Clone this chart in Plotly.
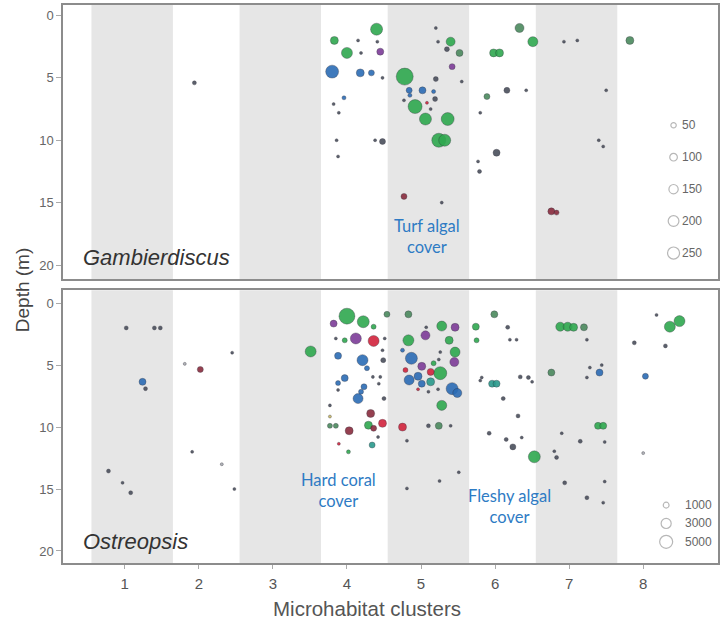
import numpy as np
import plotly.graph_objects as go

# ---------------- data ----------------
# Gambierdiscus: jittered cluster position, depth (m), cell abundance, colour group
gam_x = [1.94, 4.40, 3.83, 4.15, 4.41, 4.00, 4.19, 4.45, 3.80, 4.18,
         4.33, 4.48, 3.96, 3.82, 3.89, 3.86, 4.38, 4.48, 3.88, 4.78,
         5.20, 4.84, 5.02, 5.17, 4.77, 4.85, 5.19, 4.92, 5.08, 5.06,
         5.36, 5.13, 5.24, 5.32, 5.20, 5.23, 5.40, 5.35, 5.52, 5.42,
         5.55, 4.77, 5.28, 6.33, 6.51, 6.93, 7.11, 7.82, 5.98, 6.06,
         5.89, 6.16, 6.42, 5.80, 6.02, 5.77, 5.79, 7.50, 7.40, 7.46,
         6.76, 6.83]
gam_depth = [5.4, 1.1, 2.0, 2.0, 2.1, 3.0, 3.0, 2.9, 4.5, 4.6,
             4.6, 5.0, 6.6, 7.1, 7.8, 10.0, 10.0, 10.1, 11.3, 4.9,
             5.1, 6.0, 6.0, 6.1, 6.8, 6.4, 6.7, 7.3, 7.0, 8.3,
             8.3, 7.5, 10.0, 10.0, 1.0, 2.1, 2.1, 2.7, 3.0, 4.1,
             5.3, 14.5, 15.0, 1.0, 2.1, 2.1, 2.0, 2.0, 3.0, 3.0,
             6.5, 6.0, 6.0, 7.8, 11.0, 11.7, 12.5, 6.0, 10.0, 10.5,
             15.7, 15.8]
gam_cells = [28, 250, 110, 16, 16, 210, 16, 85, 290, 110,
             62, 16, 28, 16, 16, 16, 16, 62, 16, 500,
             43, 62, 85, 28, 16, 28, 43, 340, 16, 250,
             290, 16, 340, 250, 16, 16, 140, 43, 85, 62,
             16, 62, 16, 140, 175, 16, 16, 110, 110, 110,
             62, 62, 16, 16, 85, 16, 28, 16, 16, 16,
             85, 43]
gam_group = ['k', 'g', 'g', 'k', 'k', 'g', 'k', 'p', 'b', 'b',
             'b', 'k', 'b', 'k', 'k', 'k', 'k', 'k', 'k', 'g',
             'k', 'b', 'b', 'b', 'k', 'b', 'k', 'g', 'r', 'g',
             'g', 'k', 'g', 'g', 'k', 'k', 'g', 'k', 'gg', 'p',
             'k', 'm', 'k', 'gg', 'g', 'k', 'k', 'gg', 'g', 'g',
             'gg', 'k', 'k', 'k', 'k', 'k', 'k', 'k', 'k', 'k',
             'm', 'm']

# Ostreopsis
ost_x = [1.02, 1.40, 1.48, 1.24, 1.28, 0.78, 0.97, 1.08, 1.81, 2.02,
         2.45, 1.91, 2.31, 2.48, 3.51, 4.00, 4.22, 4.36, 4.54, 3.82,
         3.85, 3.97, 4.12, 4.36, 4.51, 4.48, 3.88, 4.21, 4.27, 4.49,
         4.35, 4.45, 4.43, 3.97, 3.88, 3.88, 4.23, 4.19, 4.15, 4.50,
         3.77, 3.77, 3.77, 3.85, 4.32, 4.03, 4.29, 4.36, 4.48, 4.42,
         3.89, 4.02, 4.34, 4.83, 5.28, 5.46, 5.07, 4.83, 5.06, 5.38,
         4.75, 5.26, 4.87, 5.46, 5.45, 5.24, 5.01, 5.17, 5.13, 5.26,
         4.84, 4.96, 4.79, 5.13, 5.01, 5.42, 5.49, 4.96, 5.10, 5.23,
         5.28, 4.75, 5.10, 5.24, 5.40, 4.81, 4.81, 5.25, 5.51, 5.99,
         5.74, 5.75, 6.17, 6.20, 6.29, 6.88, 6.98, 7.06, 7.20, 7.24,
         7.88, 8.18, 5.82, 5.80, 5.96, 6.02, 6.34, 6.45, 6.50, 6.76,
         7.28, 7.44, 7.41, 7.24, 8.03, 6.11, 6.31, 5.92, 6.15, 6.36,
         6.24, 6.53, 6.90, 7.15, 7.48, 7.39, 7.46, 6.80, 6.83, 6.94,
         7.48, 7.24, 7.46, 8.00, 8.36, 8.49, 8.30]
ost_depth = [2.0, 2.0, 2.0, 6.35, 6.9, 13.55, 14.5, 15.3, 4.9, 5.35,
             4.0, 12.0, 13.0, 15.0, 3.9, 1.05, 1.5, 1.9, 0.9, 1.65,
             2.85, 3.0, 2.85, 3.05, 2.85, 3.8, 4.25, 4.6, 5.25, 4.6,
             5.95, 5.95, 6.5, 6.05, 6.45, 7.0, 6.75, 7.15, 7.7, 7.7,
             8.25, 9.15, 9.9, 9.9, 8.9, 10.3, 9.85, 10.1, 9.7, 10.8,
             11.35, 12.0, 11.45, 0.9, 1.85, 1.95, 1.95, 3.0, 2.6, 3.0,
             3.8, 3.95, 4.45, 3.95, 4.75, 4.55, 5.1, 4.85, 5.55, 5.65,
             6.2, 5.9, 5.4, 6.35, 6.5, 6.9, 7.25, 6.95, 7.15, 6.95,
             8.25, 10.0, 9.9, 9.9, 9.9, 11.1, 14.95, 14.35, 13.65, 0.9,
             1.9, 3.0, 1.95, 2.95, 2.95, 1.9, 1.9, 1.95, 1.95, 2.95,
             3.2, 0.95, 6.0, 6.25, 6.5, 6.5, 5.95, 6.0, 6.35, 5.6,
             5.2, 5.0, 5.6, 6.0, 5.9, 7.7, 9.1, 10.5, 11.0, 10.85,
             11.6, 12.4, 10.5, 11.15, 11.2, 9.9, 9.9, 11.95, 12.45, 14.5,
             14.4, 15.7, 16.1, 12.1, 1.9, 1.45, 3.45]
ost_cells = [470, 470, 470, 1450, 470, 470, 270, 470, 270, 1060,
             270, 270, 270, 270, 3570, 7500, 4250, 740, 1060, 1450,
             270, 740, 3570, 3570, 270, 270, 1450, 3570, 740, 740,
             270, 270, 270, 1450, 740, 270, 1060, 740, 2950, 470,
             270, 270, 740, 740, 1890, 1890, 1890, 1060, 1890, 270,
             270, 470, 1060, 1450, 2950, 1890, 270, 3570, 2390, 1890,
             470, 270, 4250, 2950, 2390, 270, 1890, 740, 1450, 5000,
             2950, 1890, 740, 1890, 1450, 4250, 2390, 270, 270, 270,
             2950, 1890, 470, 1450, 270, 270, 270, 270, 270, 1450,
             1450, 740, 470, 270, 270, 2390, 2390, 1890, 1450, 270,
             470, 270, 270, 270, 1450, 1450, 470, 470, 270, 1450,
             270, 270, 1450, 270, 1060, 470, 470, 470, 470, 270,
             1060, 4250, 270, 470, 270, 1450, 1450, 270, 470, 470,
             270, 470, 270, 270, 3570, 3570, 470]
ost_group = ['k', 'k', 'k', 'b', 'k', 'k', 'k', 'k', 'lt', 'm',
             'k', 'k', 'lt', 'k', 'g', 'g', 'g', 'g', 'gg', 'p',
             'k', 'g', 'p', 'r', 'k', 'k', 'b', 'b', 'b', 'k',
             'k', 'k', 'k', 'b', 'b', 'k', 'b', 'b', 'b', 'k',
             'k', 'y', 'gg', 'gg', 'm', 'm', 'g', 'm', 'r', 'k',
             'r', 'g', 't', 'gg', 'g', 'p', 'k', 'g', 'p', 'g',
             'b', 'k', 'b', 'g', 'p', 'k', 'p', 'g', 'r', 'g',
             'b', 'b', 'r', 't', 'b', 'b', 'b', 'r', 'k', 'k',
             'g', 'r', 'k', 'gg', 'k', 'k', 'k', 'k', 'k', 'gg',
             'g', 'g', 'k', 'k', 'k', 'g', 'g', 'g', 'gg', 'k',
             'k', 'k', 'k', 'k', 't', 't', 'k', 'k', 'k', 'gg',
             'k', 'k', 'b', 'k', 'b', 'k', 'k', 'k', 'k', 'k',
             'k', 'g', 'k', 'k', 'k', 'g', 'g', 'k', 'k', 'k',
             'k', 'k', 'k', 'lt', 'g', 'g', 'k']

cluster_ticks = [1, 2, 3, 4, 5, 6, 7, 8]
shaded_clusters = [1, 3, 5, 7]
gam_legend_vals = [50, 100, 150, 200, 250]
ost_legend_vals = [1000, 3000, 5000]

# ---------------- styling ----------------
palette = {
    'g': '#2fa84f', 'gg': '#4b8a5e', 'b': '#2b6cb5', 'p': '#7d3c98',
    'r': '#d2233c', 'm': '#8a2c3e', 't': '#2a9a8c', 'k': '#4a4f5c',
    'y': '#c8b866', 'lt': '#a8aab0',
}
GAM_SCALE = 0.76    # marker diameter (px) per sqrt(cells)
OST_SCALE = 0.184
TEXT_GREY = '#555555'
FRAME = '#8c8c8c'

fig = go.Figure()


def add_points(xs, ys, cells, groups, scale, xa, ya):
    xs, ys, cells = np.array(xs), np.array(ys), np.array(cells, dtype=float)
    sizes = scale * np.sqrt(cells)
    order = np.argsort(-sizes, kind="stable")
    cols = [palette[groups[i]] for i in order]
    fig.add_trace(go.Scatter(
        x=xs[order], y=ys[order], mode="markers", xaxis=xa, yaxis=ya,
        marker=dict(size=sizes[order], sizemode="diameter", color=cols,
                    opacity=0.9,
                    line=dict(color="rgba(40,40,50,0.45)", width=0.8)),
        showlegend=False, hoverinfo="skip"))


add_points(gam_x, gam_depth, gam_cells, gam_group, GAM_SCALE, "x2", "y2")
add_points(ost_x, ost_depth, ost_cells, ost_group, OST_SCALE, "x", "y")


def add_size_key(vals, scale, xc, xt, y0, dy, xa, ya):
    ys = [y0 + i * dy for i in range(len(vals))]
    fig.add_trace(go.Scatter(
        x=[xc] * len(vals), y=ys, mode="markers", xaxis=xa, yaxis=ya,
        marker=dict(size=[scale * np.sqrt(v) for v in vals], color="rgba(255,255,255,0)",
                    line=dict(color="#9a9a9a", width=1.2)),
        showlegend=False, hoverinfo="skip"))
    for v, yy in zip(vals, ys):
        fig.add_annotation(x=xt, y=yy, xref=xa, yref=ya, text=str(v),
                           showarrow=False, xanchor="left", yanchor="middle",
                           font=dict(family="Liberation Sans, Arial", size=12,
                                     color="#666666"))


add_size_key(gam_legend_vals, GAM_SCALE, 8.41, 8.50, 8.8, 2.56, "x2", "y2")
add_size_key(ost_legend_vals, OST_SCALE, 8.31, 8.54, 16.3, 1.48, "x", "y")

# shaded cluster bands
for k in shaded_clusters:
    for xr, yr in (("x", "y domain"), ("x2", "y2 domain")):
        fig.add_shape(type="rect", xref=xr, yref=yr, x0=k - 0.45, x1=k + 0.65,
                      y0=0, y1=1, fillcolor="#e6e6e6", line=dict(width=0),
                      layer="below")

# panel labels
fig.add_annotation(xref="x2 domain", yref="y2 domain", x=0.028, y=0.077,
                   text="<i>Gambierdiscus</i>", showarrow=False, xanchor="left",
                   yanchor="middle",
                   font=dict(family="Liberation Sans, Arial", size=22, color="#333333"))
fig.add_annotation(xref="x domain", yref="y domain", x=0.028, y=0.08,
                   text="<i>Ostreopsis</i>", showarrow=False, xanchor="left",
                   yanchor="middle",
                   font=dict(family="Liberation Sans, Arial", size=22, color="#333333"))

# benthic cover notes, placed on the cluster / depth axes
blue_font = dict(family="Lato, Open Sans", size=16.5, color="#2e7bc4")
fig.add_annotation(xref="x2", yref="y2", x=5.08, y=17.7, xanchor="center",
                   yanchor="middle", text="Turf algal<br>cover", showarrow=False,
                   font=blue_font)
fig.add_annotation(xref="x", yref="y", x=3.88, y=15.15, xanchor="center",
                   yanchor="middle", text="Hard coral<br>cover", showarrow=False,
                   font=blue_font)
fig.add_annotation(xref="x", yref="y", x=6.20, y=16.4, xanchor="center",
                   yanchor="middle", text="Fleshy algal<br>cover", showarrow=False,
                   font=blue_font)

# axis titles
fig.add_annotation(xref="paper", yref="paper", x=-0.0625, y=0.489,
                   text="Depth (m)", textangle=-90, showarrow=False,
                   xanchor="center", yanchor="middle",
                   font=dict(family="Liberation Sans, Arial", size=19, color="#444444"))
fig.add_annotation(xref="paper", yref="paper", x=0.464, y=-0.081,
                   text="Microhabitat clusters", showarrow=False,
                   xanchor="center", yanchor="middle",
                   font=dict(family="Liberation Sans, Arial", size=20.5, color="#555555"))

x_range = [0.166, 9.01]
common_x = dict(range=x_range, showgrid=False, zeroline=False, showline=True,
                linecolor=FRAME, linewidth=1.5, mirror=True)
common_y = dict(showgrid=False, zeroline=False, showline=True, linecolor=FRAME,
                linewidth=1.5, mirror=True, tickvals=[0, 5, 10, 15, 20],
                ticks="outside", ticklen=5, tickcolor="#aaaaaa",
                tickfont=dict(family="Liberation Sans, Arial", size=13, color="#666666"))

fig.update_layout(
    width=721, height=625,
    margin=dict(l=63, r=1, t=5, b=62),
    paper_bgcolor="white", plot_bgcolor="white",
    xaxis=dict(**common_x, anchor="y", tickvals=cluster_ticks,
               ticks="outside", ticklen=4, tickcolor="#aaaaaa",
               ticklabelstandoff=2,
               tickfont=dict(family="Liberation Sans, Arial", size=15, color=TEXT_GREY)),
    xaxis2=dict(**common_x, anchor="y2", showticklabels=False, ticks=""),
    yaxis=dict(**common_y, domain=[0, 0.489], range=[20.97, -1.05], anchor="x"),
    yaxis2=dict(**common_y, domain=[0.509, 1.0], range=[21.12, -0.84], anchor="x2"),
)

fig.write_html("out.html")
